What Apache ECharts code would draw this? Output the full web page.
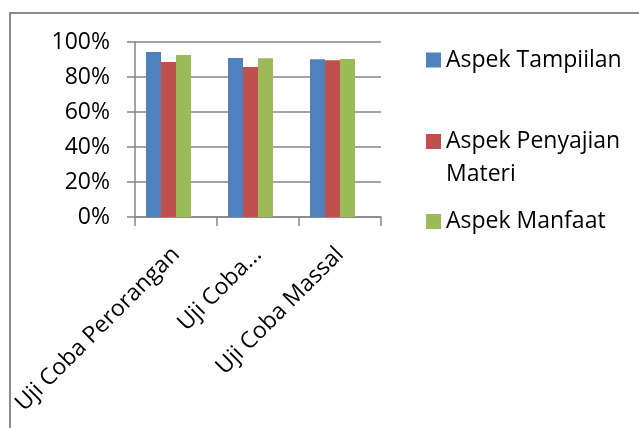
<!DOCTYPE html>
<html>
<head>
<meta charset="utf-8">
<script src="https://cdn.jsdelivr.net/npm/echarts@6/dist/echarts.min.js"></script>
<style>
  html, body { margin: 0; padding: 0; background: #fff; }
  #chart { width: 639px; height: 428px; }
</style>
</head>
<body>
<div id="chart"></div>
<script>
// Trial stages (x axis) and the three assessed aspects (series)
const categories = ['Uji Coba Perorangan', 'Uji Coba...', 'Uji Coba Massal'];
const seriesNames = ['Aspek Tampiilan', 'Aspek Penyajian Materi', 'Aspek Manfaat'];
const tampilan = [0.943, 0.909, 0.901];
const penyajian = [0.886, 0.857, 0.896];
const manfaat = [0.926, 0.907, 0.903];
const yTicks = [0, 0.2, 0.4, 0.6, 0.8, 1.0];

const FONT = '"Open Sans", sans-serif';
const FONT_SIZE = 23;
const GRID_TOP = 42;
const GRID_H = 175;
const CAT_W = 82;
const AXIS_GREY = '#868686';

const chart = echarts.init(document.getElementById('chart'), null, { renderer: 'canvas' });

const pct = v => Math.round(v * 100) + '%';

const valueAxisBase = {
  type: 'value',
  min: yTicks[0],
  max: yTicks[yTicks.length - 1],
  interval: yTicks[1] - yTicks[0]
};

const legendText = { fontFamily: FONT, fontSize: FONT_SIZE, color: '#000', lineHeight: 33 };

chart.setOption({
  animation: false,
  backgroundColor: '#fff',
  color: ['#4F81BD', '#C0504D', '#9BBB59'],
  graphic: [{
    type: 'rect',
    shape: { x: 10, y: 13, width: 700, height: 500 },
    style: { fill: 'none', stroke: '#8c8c8c', lineWidth: 2 },
    silent: true,
    z: 0
  }],
  grid: [
    // axes, gridlines, ticks and category labels
    { left: 135, top: GRID_TOP, width: CAT_W * 3, height: GRID_H },
    // bars, drawn a little left of the category slots
    { left: 127.5, top: GRID_TOP, width: CAT_W * 3, height: GRID_H }
  ],
  xAxis: [
    {
      type: 'category', gridIndex: 0, data: categories,
      axisLine: { lineStyle: { color: AXIS_GREY, width: 1.5 } },
      axisTick: { show: true, alignWithLabel: false, length: 9, lineStyle: { color: AXIS_GREY, width: 1.5 } },
      axisLabel: {
        show: true, interval: 0, rotate: 45, margin: 34,
        fontFamily: FONT, fontSize: FONT_SIZE, color: '#000'
      }
    },
    {
      type: 'category', gridIndex: 1, data: categories,
      axisLine: { show: false }, axisTick: { show: false }, axisLabel: { show: false }
    }
  ],
  yAxis: [
    Object.assign({}, valueAxisBase, {
      gridIndex: 0,
      axisLine: { show: true, lineStyle: { color: AXIS_GREY, width: 1.5 } },
      axisTick: { show: true, length: 8, lineStyle: { color: AXIS_GREY, width: 1.5 } },
      splitLine: { show: true, lineStyle: { color: AXIS_GREY, width: 1.5 } },
      axisLabel: { margin: 25, fontFamily: FONT, fontSize: FONT_SIZE, color: '#000', formatter: pct }
    }),
    Object.assign({}, valueAxisBase, {
      gridIndex: 1,
      axisLine: { show: false }, axisTick: { show: false },
      splitLine: { show: false }, axisLabel: { show: false }
    })
  ],
  legend: [
    {
      left: 426, top: 43.5, padding: 0, orient: 'vertical',
      itemWidth: 15, itemHeight: 15, icon: 'rect',
      data: [seriesNames[0]],
      textStyle: legendText
    },
    {
      left: 426, top: 92, padding: 0, orient: 'vertical',
      itemWidth: 15, itemHeight: 15, icon: 'rect',
      data: [seriesNames[1]],
      // empty first line keeps the swatch level with "Aspek Penyajian"
      formatter: () => '\nAspek Penyajian\nMateri',
      textStyle: legendText
    },
    {
      left: 426, top: 205, padding: 0, orient: 'vertical',
      itemWidth: 15, itemHeight: 15, icon: 'rect',
      data: [seriesNames[2]],
      textStyle: legendText
    }
  ],
  series: [
    { name: seriesNames[0], type: 'bar', xAxisIndex: 1, yAxisIndex: 1, data: tampilan, barWidth: 15, barGap: '0%' },
    { name: seriesNames[1], type: 'bar', xAxisIndex: 1, yAxisIndex: 1, data: penyajian, barWidth: 15, barGap: '0%' },
    { name: seriesNames[2], type: 'bar', xAxisIndex: 1, yAxisIndex: 1, data: manfaat, barWidth: 15, barGap: '0%' }
  ]
});
</script>
</body>
</html>
